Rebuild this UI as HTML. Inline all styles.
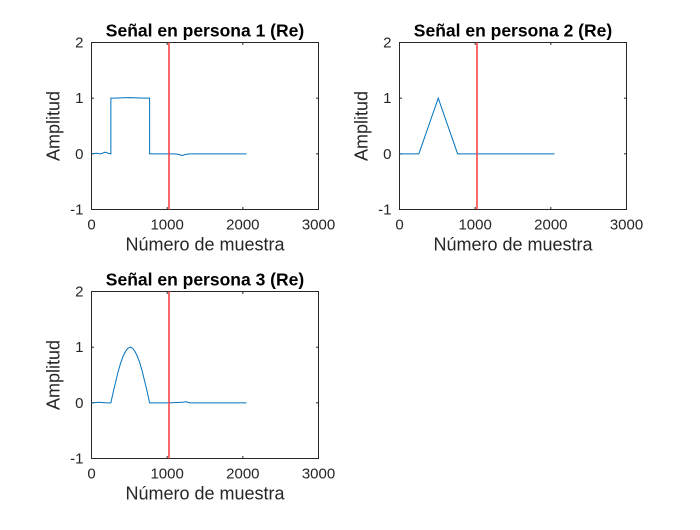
<!DOCTYPE html>
<html><head><meta charset="utf-8"><style>
body{margin:0;background:#fff}
svg{font-family:"Liberation Sans",Arial,sans-serif}
</style></head><body>
<svg id="c" width="700" height="525"></svg>
<script>
const xTicks=[0,1000,2000,3000];
const yTicks=[-1,0,1,2];
const marker=[1024];
const titles=["Señal en persona 1 (Re)","Señal en persona 2 (Re)","Señal en persona 3 (Re)"];
const x1=[0,60,120,180,220,256,256,300,500,700,768,768,900,1024,1100,1150,1200,1250,1300,1400,2048];
const y1=[0,0.01,0,0.03,0.01,0,1,1,1.01,1,1,0,0,0,0,-0.01,-0.03,-0.01,0,0,0];
const x2=[0,256,512,768,1024,2048];
const y2=[0,0,1,0,0,0];
const x3=[0,100,200,256,288,320,352,384,416,448,480,512,544,576,608,640,672,704,736,768,900,1024,1200,1250,1300,1400,2048];
const y3=[0,0.01,0,0,0.2,0.38,0.56,0.71,0.83,0.92,0.98,1,0.98,0.92,0.83,0.71,0.56,0.38,0.2,0,0,0,0.01,0.02,0,0,0];
const panels=[{l:91.5,t:42.5,w:227,h:167,x:x1,y:y1},{l:399.5,t:42.5,w:227,h:167,x:x2,y:y2},{l:91.5,t:291.5,w:227,h:167,x:x3,y:y3}];
const svg=document.getElementById('c');
const NS="http://www.w3.org/2000/svg";
function mk(tag,at,parent){const e=document.createElementNS(NS,tag);for(const k in at)e.setAttribute(k,at[k]);(parent||svg).appendChild(e);return e;}
panels.forEach((p,i)=>{
  const g=mk('g',{});
  
  
  const sx=v=>p.l+v/3000*p.w, sy=v=>p.t+(2-v)/3*p.h;
  const box=mk('rect',{x:p.l,y:p.t,width:p.w,height:p.h,fill:'#fff',stroke:'#262626','stroke-width':1},g);
  
  
  xTicks.forEach(v=>{
    mk('line',{x1:sx(v),x2:sx(v),y1:p.t+p.h,y2:p.t+p.h-2.5,stroke:'#262626'},g);
    mk('line',{x1:sx(v),x2:sx(v),y1:p.t,y2:p.t+2.5,stroke:'#262626'},g);
    const t=mk('text',{x:sx(v),y:p.t+p.h+20,'text-anchor':'middle','font-size':15,fill:'#262626'},g);t.textContent=v;
    
    
  });
  yTicks.forEach(v=>{
    mk('line',{x1:p.l,x2:p.l+2.5,y1:sy(v),y2:sy(v),stroke:'#262626'},g);
    mk('line',{x1:p.l+p.w,x2:p.l+p.w-2.5,y1:sy(v),y2:sy(v),stroke:'#262626'},g);
    const t=mk('text',{x:p.l-8,y:sy(v)+5,'text-anchor':'end','font-size':15,fill:'#262626'},g);t.textContent=v;
    
    
  });
  const pts=p.x.map((v,k)=>sx(v).toFixed(2)+','+sy(p.y[k]).toFixed(2)).join(' ');
  const ln=mk('polyline',{points:pts,fill:'none',stroke:'#0072BD','stroke-width':1},g);
  
  
  marker.forEach(m=>{
    const r=mk('line',{x1:sx(m),x2:sx(m),y1:p.t,y2:p.t+p.h,stroke:'#FF3B3B','stroke-width':1.5},g);
    
    
  });
  const tt=mk('text',{x:p.l+p.w/2,y:p.t-6,'text-anchor':'middle','font-size':17.5,'font-weight':'bold',fill:'#000'},g);tt.textContent=titles[i];
  
  
  const xl=mk('text',{x:p.l+p.w/2,y:p.t+p.h+41,'text-anchor':'middle','font-size':18,fill:'#262626'},g);xl.textContent='Número de muestra';
  
  
  const yl=mk('text',{x:0,y:0,'text-anchor':'middle','font-size':18,fill:'#262626',transform:`translate(${p.l-32},${p.t+p.h/2}) rotate(-90)`},g);yl.textContent='Amplitud';
  
  
});
</script>
</body></html>
